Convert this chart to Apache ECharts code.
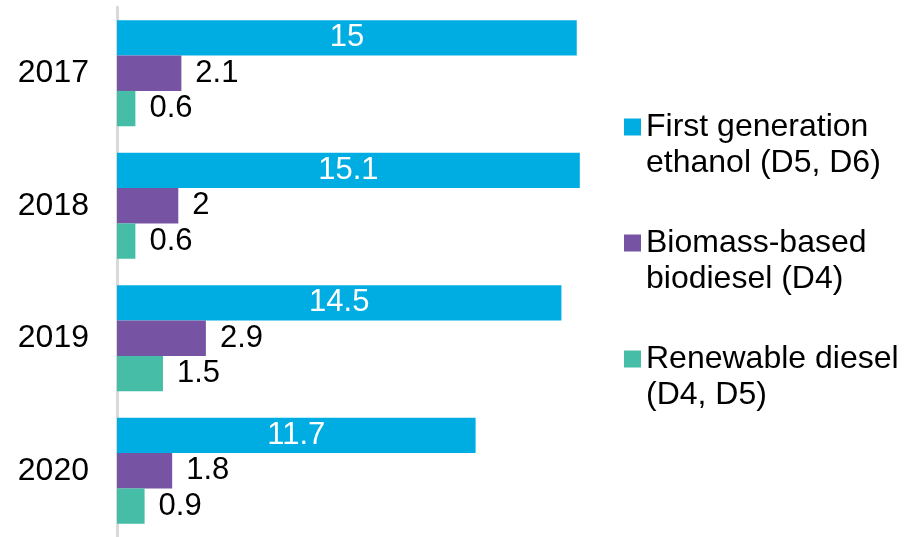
<!DOCTYPE html>
<html>
<head>
<meta charset="utf-8">
<script src="https://cdn.jsdelivr.net/npm/echarts@6/dist/echarts.min.js"></script>
<style>html,body{margin:0;padding:0;background:#fff}#c{width:906px;height:537px}</style>
</head>
<body>
<div id="c"></div>
<script>
const categories = ['2017', '2018', '2019', '2020'];
const seriesNames = ['First generation\nethanol (D5, D6)', 'Biomass-based\nbiodiesel (D4)', 'Renewable diesel\n(D4, D5)'];
const ethanol = [15, 15.1, 14.5, 11.7];
const biodiesel = [2.1, 2, 2.9, 1.8];
const renewable = [0.6, 0.6, 1.5, 0.9];
const colors = ['#00ADE3', '#7754A3', '#45BDA7'];

const FONT = 'Liberation Sans, Arial, sans-serif';
const FS = 31;
const chart = echarts.init(document.getElementById('c'), null, {renderer: 'canvas'});
function mk(name, data, color, inside) {
  return {
    name: name, type: 'bar', data: data,
    barGap: '0%', barCategoryGap: '20%',
    itemStyle: {color: color},
    label: inside ? {show: true, position: 'inside', color: '#fff', fontSize: FS, fontFamily: FONT}
                  : {show: true, position: 'right', distance: 14, color: '#000', fontSize: FS, fontFamily: FONT},
    emphasis: {disabled: true},
    animation: false
  };
}
chart.setOption({
  animation: false,
  grid: {left: 117, top: 7, width: 613, height: 534, containLabel: false},
  xAxis: {type: 'value', min: 0, max: 20, show: false},
  yAxis: {
    type: 'category', data: categories, inverse: true,
    axisLine: {show: true, lineStyle: {color: '#d9d9d9', width: 3}},
    axisTick: {show: false},
    axisLabel: {color: '#000', fontSize: 32, fontFamily: FONT, margin: 28}
  },
  legend: {
    orient: 'vertical', left: 619, top: 68,
    itemWidth: 17, itemHeight: 17, itemGap: 8,
    icon: 'rect',
    data: seriesNames,
    formatter: function (n) { return '\n' + n; },
    textStyle: {color: '#000', fontSize: 32, fontFamily: FONT, lineHeight: 36}
  },
  series: [
    mk(seriesNames[0], ethanol, colors[0], true),
    mk(seriesNames[1], biodiesel, colors[1], false),
    mk(seriesNames[2], renewable, colors[2], false)
  ]
});
</script>
</body>
</html>
